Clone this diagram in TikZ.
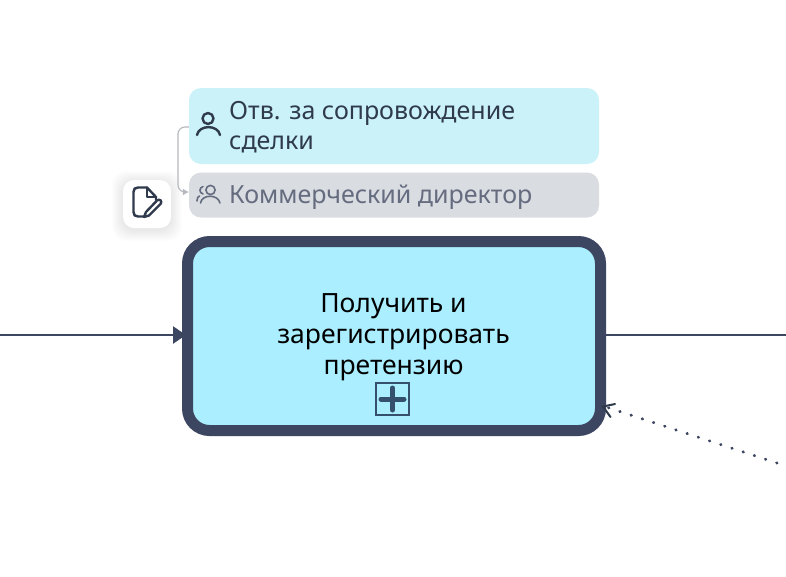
\documentclass[tikz,border=0pt]{standalone}
\usepackage{fontspec}
\setmainfont{Noto Sans}
\usetikzlibrary{arrows.meta}
\definecolor{navy}{HTML}{3D4660}
\definecolor{inkdark}{HTML}{2F3A4C}
\definecolor{plusblue}{HTML}{34506C}
\definecolor{taskfill}{HTML}{AAEEFF}
\definecolor{rolefill}{HTML}{CBF2F9}
\definecolor{grayfill}{HTML}{D9DCE1}
\definecolor{graytext}{HTML}{666C80}
\definecolor{linkgray}{HTML}{B5B8BE}
\tikzset{
  x=1pt,y=-1pt,
  task/.style={draw=navy,line width=11pt,fill=taskfill,rounded corners=22pt,minimum width=413pt,minimum height=189pt,inner sep=0pt},
  rolebox/.style={fill=rolefill,rounded corners=12pt,minimum width=410pt,minimum height=76pt,inner sep=0pt},
  graybox/.style={fill=grayfill,rounded corners=12pt,minimum width=410pt,minimum height=45pt,inner sep=0pt},
  flow/.style={draw=navy,line width=2.5pt},
  label/.style={font=\fontsize{25}{30}\selectfont,anchor=west,inner sep=0pt,align=left},
  tasktext/.style={font=\fontsize{26.5}{31}\selectfont,align=center,text=black,inner sep=0pt},
  iconline/.style={draw=inkdark,line width=2.4pt,line cap=round,line join=round},
  card/.style={fill=white,rounded corners=11pt,minimum width=48pt,minimum height=48pt,inner sep=0pt},
  halo/.style={fill=black,fill opacity=0.007,rounded corners=14pt}
}
\begin{document}
\begin{tikzpicture}
\useasboundingbox (0,0) rectangle (786,576);
\fill[white] (0,0) rectangle (786,576);
\node[rolebox] (role) at (394,126) {};
\node[graybox] (gray) at (394,195) {};
\node[task] (task) at (394,336) {};
% soft shadow of the card
\foreach \g in {1,...,11}{
  \fill[halo] (123-\g,180+2-\g) rectangle (171+\g,228+2+\g);
}
\node[card] (card) at (147,204) {};
\node[tasktext] (tasklabel) at (393.500,337) {Получить и\\зарегистрировать\\претензию};
\node[label,text=inkdark] (rolelabel) at (229,127) {Отв. за сопровождение\\сделки};
\node[label,text=graytext] (graylabel) at (229,197) {Коммерческий директор};
% connector between the role boxes
\draw[draw=linkgray,line width=1.1pt,rounded corners=7pt,-{Latex[length=6pt,width=7pt]}]
  (role.west |- 0,127) -- (178,127) -- (178,192) -- (gray.west |- 0,192);
% sequence flows
\coordinate (inflow) at (0,335);
\coordinate (outflow) at (786,335);
\coordinate (assocstart) at (777,463);
\coordinate (assocend) at (603,406);
\draw[flow,-{Triangle[length=13pt,width=17pt]}] (inflow) -- (186,335);
\draw[flow] (task.east |- outflow) -- (outflow);
% dotted association
\draw[draw=navy,line width=3pt,line cap=round,dash pattern=on 0.4pt off 11.390pt] (assocstart) -- (assocend);
\draw[draw=inkdark,line width=2pt,line cap=round] (615,404) -- (603,406.500) -- (610.500,417);
% expand marker
\node[draw=plusblue,line width=2.600pt,minimum width=33pt,minimum height=32pt,inner sep=0pt] (marker) at (392.500,399) {};
\draw[draw=plusblue,line width=5pt,line cap=round] (381,399) -- (404,399) (392.500,388) -- (392.500,410);
% person icon
\draw[iconline] (208,118.500) circle (5.500pt);
\draw[iconline] (197,135) .. controls (199,124.500) and (218,124.500) .. (220,135);
% group icon
\draw[draw=graytext,line width=1.600pt] (210.500,190) circle (4.600pt);
\draw[draw=graytext,line width=1.600pt,line cap=round] (200.500,203) .. controls (202,194) and (218,194) .. (220,203);
\draw[draw=graytext,line width=1.600pt,line cap=round] (203,186.500) .. controls (199,187.500) and (199,193) .. (203,194);
\draw[draw=graytext,line width=1.600pt,line cap=round] (197,201) .. controls (197,198) and (198,196.500) .. (199.500,196);
% document-with-pencil icon
\draw[iconline] (144,216.500) -- (138,216.500) .. controls (135,216.500) and (133.500,215) .. (133.500,212) -- (133.500,192) .. controls (133.500,189) and (135,187.500) .. (138,187.500) -- (147,187.500) -- (156,197) -- (156,200);
\draw[iconline] (147,187.500) -- (147,197) -- (156,197);
\draw[iconline] (146,212) -- (157,200.500) .. controls (159.500,198) and (163,201.500) .. (160.500,204) -- (149,215.500) -- (144,217) -- cycle;
\end{tikzpicture}
\end{document}
